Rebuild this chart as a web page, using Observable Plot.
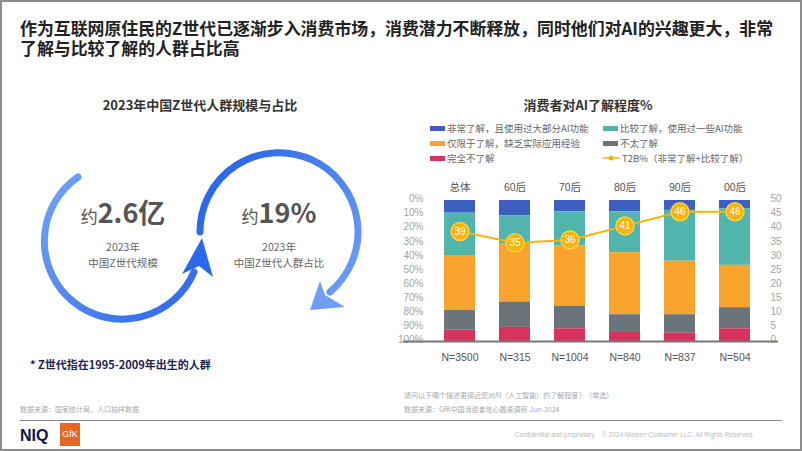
<!DOCTYPE html>
<html>
<head>
<meta charset="utf-8">
<script src="https://cdn.jsdelivr.net/npm/d3@7"></script>
<script src="https://cdn.jsdelivr.net/npm/@observablehq/plot@0.6"></script>
<style>
  html, body { margin: 0; padding: 0; background: #fff; }
  body { width: 802px; height: 451px; position: relative; overflow: hidden;
         font-family: "Liberation Sans", "Noto Sans CJK SC", sans-serif; }
  .abs { position: absolute; white-space: nowrap; }
  #frame { position: absolute; left: 0; top: 0; width: 802px; height: 451px; box-sizing: border-box; border: 2px solid #8c8c8c; pointer-events: none; }
  #title { left: 20px; top: 18px; font-size: 16.9px; font-weight: bold; color: #222; line-height: 20px; font-family: "Noto Sans CJK SC", sans-serif; }
  .sub { font-size: 13px; font-weight: bold; color: #333; font-family: "Noto Sans CJK SC", sans-serif; }
  .legend { font-size: 9.5px; color: #666; display: flex; align-items: center; font-family: "Noto Sans CJK SC", sans-serif; }
  .sw { display: inline-block; width: 15px; height: 5px; margin-right: 2px; }
  .src { font-size: 7px; color: #aaa; font-family: "Noto Sans CJK SC", sans-serif; }
  #chart { position: absolute; left: 380px; top: 175px; }
</style>
</head>
<body>
<div id="frame"></div>
<div id="title" class="abs">作为互联网原住民的Z世代已逐渐步入消费市场，消费潜力不断释放，同时他们对AI的兴趣更大，非常<br>了解与比较了解的人群占比高</div>

<div class="abs sub" style="left:200px; top:95px; transform:translateX(-50%);">2023年中国Z世代人群规模与占比</div>
<div class="abs sub" style="left:588px; top:95px; transform:translateX(-50%);">消费者对AI了解程度%</div>

<svg class="abs" style="left:0; top:0;" width="400" height="380">
  <defs>
    <linearGradient id="gL" gradientUnits="userSpaceOnUse" x1="45" y1="165" x2="205" y2="300">
      <stop offset="0" stop-color="#77a5f7"/>
      <stop offset="1" stop-color="#2c69e8"/>
    </linearGradient>
    <linearGradient id="gR" gradientUnits="userSpaceOnUse" x1="205" y1="200" x2="350" y2="300">
      <stop offset="0" stop-color="#2c69e8"/>
      <stop offset="1" stop-color="#6f9ef6"/>
    </linearGradient>
  </defs>
  <path d="M 78 177 A 78 78 0 1 0 194 272" fill="none" stroke="url(#gL)" stroke-width="7" stroke-linecap="round"/>
  <path d="M 202 238 L 213 277 L 199 266 L 182 274 Z" fill="#2c69e8"/>
  <path d="M 200 232 A 79 79 0 1 1 330 292" fill="none" stroke="url(#gR)" stroke-width="7" stroke-linecap="round"/>
  <path d="M 310 310 L 320 281 L 325 295 L 345 307 Z" fill="#6f9ef6"/>
  <text x="123" y="223" text-anchor="middle" fill="#555" font-family="Noto Sans CJK SC, sans-serif"><tspan font-size="17">约</tspan><tspan font-size="27" font-weight="bold">2.6亿</tspan></text>
  <text x="123" y="251" text-anchor="middle" fill="#666" font-size="10.5" font-family="Noto Sans CJK SC, sans-serif">2023年</text>
  <text x="123" y="267" text-anchor="middle" fill="#666" font-size="10.5" font-family="Noto Sans CJK SC, sans-serif">中国Z世代规模</text>
  <text x="279" y="223" text-anchor="middle" fill="#555" font-family="Noto Sans CJK SC, sans-serif"><tspan font-size="17">约</tspan><tspan font-size="27" font-weight="bold">19%</tspan></text>
  <text x="279" y="251" text-anchor="middle" fill="#666" font-size="10.5" font-family="Noto Sans CJK SC, sans-serif">2023年</text>
  <text x="279" y="267" text-anchor="middle" fill="#666" font-size="10.5" font-family="Noto Sans CJK SC, sans-serif">中国Z世代人群占比</text>
  <text x="30" y="369" fill="#1c2350" font-size="11" font-weight="bold" font-family="Noto Sans CJK SC, sans-serif">* Z世代指在1995-2009年出生的人群</text>
</svg>

<div id="legend"></div>
<div id="chart"></div>

<div class="abs src" style="left:404px; top:390px;">请问以下哪个描述更接近您对AI（人工智能）的了解程度？（单选）</div>
<div class="abs src" style="left:20px; top:404px;">数据来源：国家统计局，人口抽样数据</div>
<div class="abs src" style="left:404px; top:404px;">数据来源：GfK中国消费者信心圆桌调研 Jun-2024</div>
<div class="abs" style="left:20px; top:420px; width:762px; height:1px; background:#888;"></div>
<div class="abs" style="left:20px; top:427px; font-size:16px; font-weight:bold; color:#0b1748; font-family:'Liberation Sans',sans-serif;">NIQ</div>
<div class="abs" style="left:60px; top:423px; width:20px; height:23px; background:#e8661e; color:#fff; font-size:9px; line-height:23px; text-align:center; font-family:'Liberation Sans',sans-serif;">GfK</div>
<div class="abs" style="left:515px; top:431px; font-size:6.5px; color:#bbb;">Confidential and proprietary</div>
<div class="abs" style="left:602px; top:431px; font-size:6.5px; color:#bbb;">© 2024 Nielsen Consumer LLC. All Rights Reserved.</div>

<script>
const cohorts = ["总体", "60后", "70后", "80后", "90后", "00后"];
const sampleSizes = ["N=3500", "N=315", "N=1004", "N=840", "N=837", "N=504"];
const seriesNames = ["非常了解，且使用过大部分AI功能", "比较了解，使用过一些AI功能", "仅限于了解，缺乏实际应用经验", "不太了解", "完全不了解"];
const seriesColors = ["#3d5fc1", "#4fb5ad", "#f9a42c", "#6b747a", "#d6335f"];
const veryFamiliar = [9, 11, 8, 8, 7, 6];
const fairlyFamiliar = [30, 20, 24, 29, 36, 40];
const onlyHeardOf = [39, 41, 43, 44, 38, 30];
const notVeryFamiliar = [14, 18, 16, 12, 13, 15];
const notFamiliarAtAll = [8, 10, 9, 7, 6, 9];
const t2bName = "T2B%（非常了解+比较了解）";
const t2b = [39, 35, 36, 41, 46, 46];
const leftTickLabels = ["0%", "10%", "20%", "30%", "40%", "50%", "60%", "70%", "80%", "90%", "100%"];
const rightTickLabels = [50, 45, 40, 35, 30, 25, 20, 15, 10, 5, 0];

const seriesValues = [veryFamiliar, fairlyFamiliar, onlyHeardOf, notVeryFamiliar, notFamiliarAtAll];
const rows = [];
seriesValues.forEach((vals, si) => {
  vals.forEach((v, ci) => rows.push({cohort: cohorts[ci], series: seriesNames[si], value: v}));
});
const lineRows = cohorts.map((c, i) => ({cohort: c, t2b: t2b[i], n: sampleSizes[i]}));
const tickPositions = d3.range(0, 101, 10);

// legend
const legend = document.getElementById("legend");
const legendItems = [
  {name: seriesNames[0], color: seriesColors[0], x: 430, y: 122},
  {name: seriesNames[1], color: seriesColors[1], x: 603, y: 122},
  {name: seriesNames[2], color: seriesColors[2], x: 430, y: 137},
  {name: seriesNames[3], color: seriesColors[3], x: 603, y: 137},
  {name: seriesNames[4], color: seriesColors[4], x: 430, y: 152},
  {name: t2bName, color: "#f7b500", x: 603, y: 152, line: true}
];
legendItems.forEach(it => {
  const d = document.createElement("div");
  d.className = "abs legend";
  d.style.left = it.x + "px";
  d.style.top = it.y + "px";
  d.style.height = "12px";
  if (it.line) {
    d.innerHTML = `<svg width="17" height="8" style="margin-right:2px"><line x1="0" y1="4" x2="16" y2="4" stroke="${it.color}" stroke-width="1.5"/><circle cx="8" cy="4" r="2.5" fill="${it.color}"/></svg><span>${it.name}</span>`;
  } else {
    d.innerHTML = `<span class="sw" style="background:${it.color}"></span><span>${it.name}</span>`;
  }
  legend.appendChild(d);
});

const chart = Plot.plot({
  width: 422,
  height: 195,
  marginLeft: 23,
  marginRight: 24,
  marginTop: 25,
  marginBottom: 29,
  style: {fontFamily: "'Liberation Sans', 'Noto Sans CJK SC', sans-serif", background: "transparent"},
  x: {type: "band", domain: cohorts, range: [63, 371.5], paddingInner: 0.44, paddingOuter: 0, axis: null},
  y: {domain: [0, 100], range: [25, 166], axis: null},
  color: {domain: seriesNames, range: seriesColors},
  marks: [
    Plot.barY(rows, Plot.stackY({x: "cohort", y: "value", fill: "series", order: seriesNames})),
    Plot.axisY({anchor: "left", ticks: tickPositions, tickFormat: (d, i) => leftTickLabels[i], tickSize: 0, tickPadding: 0, dx: 20, dy: -1.5, color: "#a3a3a3", fontSize: 10, label: null}),
    Plot.axisY({anchor: "right", ticks: tickPositions, tickFormat: (d, i) => rightTickLabels[i], tickSize: 0, tickPadding: 0, dx: -8, dy: -1.5, color: "#a3a3a3", fontSize: 10, label: null}),
    Plot.ruleY([100], {stroke: "#777", strokeWidth: 2}),
    Plot.text(lineRows, {x: "cohort", y: () => 0, text: "cohort", dy: -13, fontSize: 10.5, fill: "#555"}),
    Plot.text(lineRows, {x: "cohort", y: () => 100, text: "n", dy: 16, fontSize: 10.5, fill: "#555"}),
    Plot.line(lineRows, {x: "cohort", y: d => 100 - 2 * d.t2b, stroke: "#f7b500", strokeWidth: 2}),
    Plot.dot(lineRows, {x: "cohort", y: d => 100 - 2 * d.t2b, r: 9, fill: "#f7b500", stroke: "#fbd04e", strokeWidth: 1.5}),
    Plot.text(lineRows, {x: "cohort", y: d => 100 - 2 * d.t2b, text: "t2b", fill: "white", fontSize: 10})
  ]
});
document.getElementById("chart").appendChild(chart);
</script>
</body>
</html>
